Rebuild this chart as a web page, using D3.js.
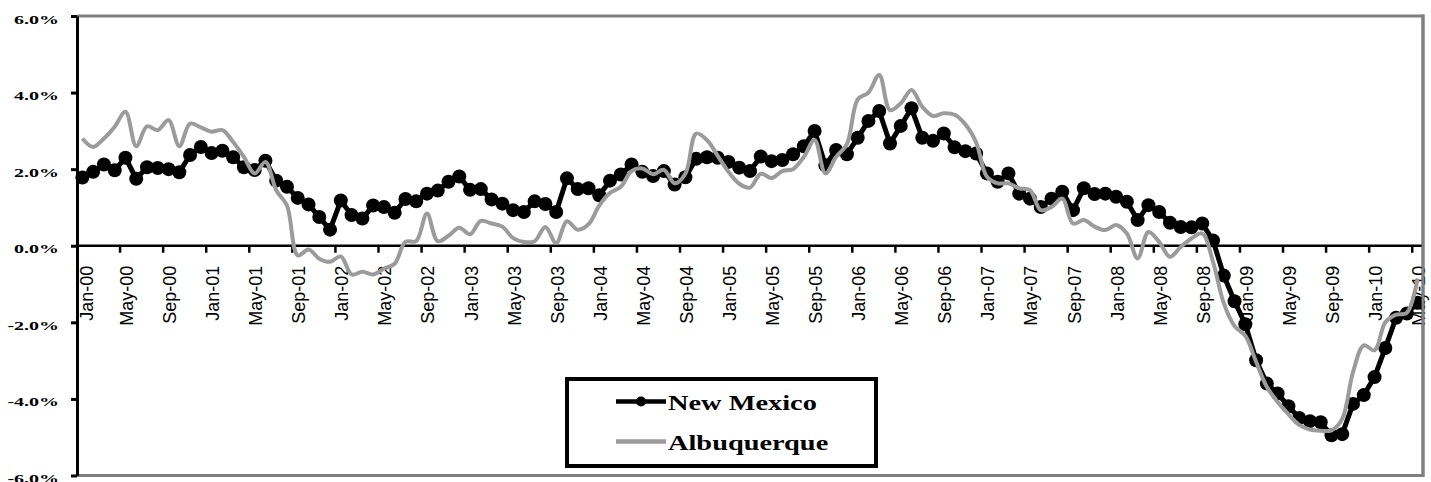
<!DOCTYPE html>
<html>
<head>
<meta charset="utf-8">
<script src="https://cdn.jsdelivr.net/npm/d3@7"></script>
<style>
  html, body { margin: 0; padding: 0; background: #fff; }
  svg { display: block; }
</style>
</head>
<body>
<svg id="chart" width="1431" height="482"></svg>
<script>
// ---------- DATA ----------
const monthNames = ["Jan","Feb","Mar","Apr","May","Jun","Jul","Aug","Sep","Oct","Nov","Dec"];
const months = [];
for (let yr = 0; yr <= 10; yr++) {
  for (let m = 0; m < 12; m++) {
    if (yr === 10 && m > 4) break;
    months.push(monthNames[m] + "-" + String(yr).padStart(2, "0"));
  }
}
const seriesNames = ["New Mexico", "Albuquerque"];
const newMexico = [
  1.78,1.93,2.12,1.97,2.30,1.75,2.05,2.03,2.00,1.92,2.37,2.58,
  2.42,2.48,2.31,2.05,1.98,2.22,1.70,1.54,1.25,1.08,0.75,0.42,
  1.18,0.80,0.71,1.05,1.01,0.86,1.22,1.16,1.36,1.44,1.67,1.81,
  1.46,1.48,1.21,1.10,0.93,0.88,1.16,1.09,0.88,1.76,1.48,1.50,
  1.32,1.70,1.86,2.12,1.93,1.82,1.95,1.60,1.79,2.27,2.31,2.30,
  2.19,2.04,1.95,2.33,2.21,2.24,2.39,2.60,3.00,2.10,2.50,2.39,
  2.82,3.26,3.52,2.67,3.13,3.59,2.82,2.74,2.93,2.57,2.47,2.41,
  1.89,1.67,1.89,1.36,1.23,1.01,1.23,1.41,0.93,1.50,1.35,1.36,
  1.28,1.15,0.67,1.06,0.88,0.60,0.49,0.48,0.58,0.14,-0.78,-1.45,
  -2.05,-2.99,-3.60,-3.86,-4.19,-4.50,-4.58,-4.61,-4.95,-4.92,-4.13,-3.90,
  -3.43,-2.67,-1.88,-1.77,-1.49
];
const albuquerque = [
  2.80,2.58,2.80,3.11,3.50,2.60,3.12,3.02,3.28,2.60,3.19,3.09,
  2.98,3.02,2.71,2.32,1.89,2.19,1.45,1.05,-0.25,-0.10,-0.34,-0.42,
  -0.28,-0.75,-0.68,-0.75,-0.60,-0.47,0.10,0.12,0.84,0.12,0.26,0.47,
  0.30,0.65,0.58,0.50,0.20,0.10,0.12,0.49,0.07,0.64,0.42,0.56,
  1.05,1.38,1.54,1.95,2.02,1.87,1.98,1.63,1.88,2.93,2.76,2.35,
  1.93,1.62,1.52,1.88,1.77,1.95,2.00,2.32,2.76,1.89,2.32,2.65,
  3.82,4.00,4.46,3.54,3.72,4.07,3.63,3.39,3.46,3.42,3.17,2.70,
  1.80,1.63,1.63,1.50,1.45,0.93,1.01,1.23,0.58,0.67,0.50,0.41,
  0.54,0.32,-0.33,0.36,0.10,-0.29,-0.03,0.19,0.32,-0.42,-1.50,-2.10,
  -2.35,-3.03,-3.69,-4.08,-4.40,-4.68,-4.80,-4.83,-4.82,-4.52,-3.30,-2.60,
  -2.73,-2.00,-1.80,-1.75,-0.85
];
const yTicks = [-6, -4, -2, 0, 2, 4, 6];
const labelMonths = months.filter((d, i) => i % 4 === 0);
const tickMonths = months.filter((d, i) => i % 4 === 0 && i > 0);

// ---------- LAYOUT ----------
const plot = { left: 77, right: 1423, top: 16, bottom: 475.5 };
const svg = d3.select("#chart");

const x = d3.scaleBand().domain(months).range([plot.left, plot.right]).padding(0);
const cx = d => x(d) + x.bandwidth() / 2;
const y = d3.scaleLinear().domain([-6, 6]).range([plot.bottom, plot.top]);

const GRAY = "#9b9b9b";
const BORDER = "#808080";

// Plot border (top / right / bottom, gray)
svg.append("path")
  .attr("d", `M${plot.left},${plot.top}H${plot.right}V${plot.bottom}H${plot.left}`)
  .attr("fill", "none").attr("stroke", BORDER).attr("stroke-width", 3);

// Y axis
const yAxis = svg.append("g")
  .attr("transform", `translate(${plot.left},0)`)
  .call(d3.axisLeft(y).tickValues(yTicks).tickSize(6).tickSizeOuter(0)
        .tickFormat(d => d.toFixed(1) + "%"));
yAxis.select(".domain").attr("stroke", "#000").attr("stroke-width", 3);
yAxis.selectAll(".tick line").attr("stroke", "#000").attr("stroke-width", 3);
yAxis.selectAll(".tick text")
  .attr("x", 0).attr("dy", null).attr("y", 7)
  .attr("transform", "translate(-18,0) scale(1.48,1)")
  .attr("text-anchor", "end")
  .style("font-family", "'Liberation Serif','Times New Roman',serif")
  .style("font-weight", "bold").style("font-size", "13.5px").attr("fill", "#000");

// X axis at zero
const x0 = y(0);
const xAxis = svg.append("g").attr("transform", `translate(0,${x0})`);
xAxis.append("line").attr("x1", plot.left).attr("x2", plot.right)
  .attr("stroke", "#000").attr("stroke-width", 2.5);
xAxis.selectAll("line.tk").data(tickMonths).join("line").attr("class", "tk")
  .attr("x1", d => x(d)).attr("x2", d => x(d)).attr("y1", 0).attr("y2", 7)
  .attr("stroke", "#000").attr("stroke-width", 2.5);
xAxis.selectAll("text.lb").data(labelMonths).join("text").attr("class", "lb")
  .attr("transform", (d, i) => `translate(${cx(d) + (i === 0 ? 4 : 1)},20) rotate(-90)`)
  .attr("text-anchor", "end").attr("dy", "0.36em")
  .style("font-family", "'Liberation Sans',Arial,sans-serif")
  .style("font-size", "18px").attr("fill", "#000")
  .text(d => d);

// Series
const nmData = months.map((m, i) => ({ m, v: newMexico[i] }));
const abData = months.map((m, i) => ({ m, v: albuquerque[i] }));

svg.append("path").datum(nmData)
  .attr("fill", "none").attr("stroke", "#000").attr("stroke-width", 5)
  .attr("stroke-linejoin", "round")
  .attr("d", d3.line().x(d => cx(d.m)).y(d => y(d.v)));
svg.selectAll("circle.nm").data(nmData).join("circle").attr("class", "nm")
  .attr("cx", d => cx(d.m)).attr("cy", d => y(d.v)).attr("r", 7).attr("fill", "#000");

svg.append("path").datum(abData)
  .attr("fill", "none").attr("stroke", GRAY).attr("stroke-width", 4)
  .attr("stroke-linejoin", "round")
  .attr("d", d3.line().curve(d3.curveCatmullRom.alpha(0.5)).x(d => cx(d.m)).y(d => y(d.v)));

// redraw right border over last label
svg.append("line").attr("x1", plot.right).attr("x2", plot.right)
  .attr("y1", plot.top - 1.5).attr("y2", plot.bottom + 1.5)
  .attr("stroke", BORDER).attr("stroke-width", 3);

// Legend
const lg = svg.append("g");
lg.append("rect").attr("x", 567).attr("y", 379).attr("width", 309).attr("height", 87)
  .attr("fill", "#fff").attr("stroke", "#000").attr("stroke-width", 4);
const legendItems = [
  { name: seriesNames[0], color: "#000", marker: true, y: 401.5 },
  { name: seriesNames[1], color: GRAY, marker: false, y: 441.5 }
];
legendItems.forEach(it => {
  lg.append("line").attr("x1", 616).attr("x2", 666).attr("y1", it.y).attr("y2", it.y)
    .attr("stroke", it.color).attr("stroke-width", 4.5);
  if (it.marker) lg.append("circle").attr("cx", 641).attr("cy", it.y).attr("r", 5).attr("fill", "#000");
  lg.append("text")
    .attr("transform", `translate(668,${it.y + 8}) scale(1.32,1)`)
    .style("font-family", "'Liberation Serif','Times New Roman',serif")
    .style("font-weight", "bold").style("font-size", "21.5px").attr("fill", "#000")
    .text(it.name);
});
</script>
</body>
</html>
